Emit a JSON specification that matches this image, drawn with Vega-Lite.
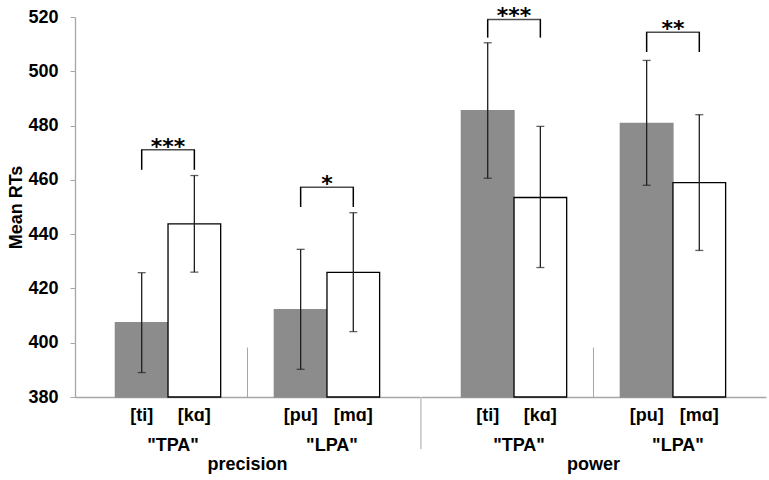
{
  "$schema": "https://vega.github.io/schema/vega-lite/v6.json",
  "background": "white",
  "padding": {"left": 7, "top": 5, "right": 5, "bottom": 5},
  "spacing": 0,
  "datasets": {
    "bars": [
      {"scale": "precision", "target": "\"TPA\"", "sound": "[ti]", "pair": "first", "mean": 407.4, "lo": 389.0, "hi": 425.8},
      {"scale": "precision", "target": "\"TPA\"", "sound": "[kɑ]", "pair": "second", "mean": 443.8, "lo": 426.0, "hi": 461.6},
      {"scale": "precision", "target": "\"LPA\"", "sound": "[pu]", "pair": "first", "mean": 412.2, "lo": 390.2, "hi": 434.4},
      {"scale": "precision", "target": "\"LPA\"", "sound": "[mɑ]", "pair": "second", "mean": 425.9, "lo": 404.1, "hi": 447.9},
      {"scale": "power", "target": "\"TPA\"", "sound": "[ti]", "pair": "first", "mean": 485.5, "lo": 460.6, "hi": 510.5},
      {"scale": "power", "target": "\"TPA\"", "sound": "[kɑ]", "pair": "second", "mean": 453.5, "lo": 427.7, "hi": 479.7},
      {"scale": "power", "target": "\"LPA\"", "sound": "[pu]", "pair": "first", "mean": 480.8, "lo": 458.0, "hi": 504.0},
      {"scale": "power", "target": "\"LPA\"", "sound": "[mɑ]", "pair": "second", "mean": 459.0, "lo": 434.0, "hi": 484.0}
    ],
    "brackets": [
      {"scale": "precision", "target": "\"TPA\"", "pair": "first", "top": 471.1, "leg": 463.7, "stars": "***"},
      {"scale": "precision", "target": "\"TPA\"", "pair": "second", "top": 471.1, "leg": 463.7, "stars": "***"},
      {"scale": "precision", "target": "\"LPA\"", "pair": "first", "top": 457.3, "leg": 450.0, "stars": "*"},
      {"scale": "precision", "target": "\"LPA\"", "pair": "second", "top": 457.3, "leg": 450.0, "stars": "*"},
      {"scale": "power", "target": "\"TPA\"", "pair": "first", "top": 519.1, "leg": 512.4, "stars": "***"},
      {"scale": "power", "target": "\"TPA\"", "pair": "second", "top": 519.1, "leg": 512.4, "stars": "***"},
      {"scale": "power", "target": "\"LPA\"", "pair": "first", "top": 514.4, "leg": 507.1, "stars": "**"},
      {"scale": "power", "target": "\"LPA\"", "pair": "second", "top": 514.4, "leg": 507.1, "stars": "**"}
    ]
  },
  "hconcat": [
    {
      "width": 345,
      "height": 380,
      "title": {"text": "precision", "orient": "bottom", "anchor": "middle", "font": "Liberation Sans", "fontSize": 18, "fontWeight": "bold", "color": "#000000", "offset": 2},
      "layer": [
        {
          "data": {"name": "bars"},
          "transform": [{"filter": "datum.scale === 'precision'"}],
          "mark": {"type": "bar", "strokeWidth": 1.3},
          "encoding": {
            "x": {"field": "target", "type": "nominal", "sort": ["\"TPA\"", "\"LPA\""], "title": null, "scale": {"paddingInner": 0.3375, "paddingOuter": 0.254}},
            "xOffset": {"field": "pair", "type": "nominal", "sort": ["first", "second"], "scale": {"paddingInner": 0, "paddingOuter": 0}},
            "y": {"field": "mean", "type": "quantitative", "title": "Mean RTs", "scale": {"domain": [380, 520], "nice": false, "zero": false}, "axis": {"values": [380, 400, 420, 440, 460, 480, 500, 520]}},
            "y2": {"datum": 380},
            "fill": {"field": "pair", "type": "nominal", "scale": {"domain": ["first", "second"], "range": ["#8c8c8c", "#ffffff"]}, "legend": null},
            "stroke": {"field": "pair", "type": "nominal", "scale": {"domain": ["first", "second"], "range": ["#8c8c8c", "#000000"]}, "legend": null}
          }
        },
        {
          "data": {"name": "bars"},
          "transform": [{"filter": "datum.scale === 'precision'"}],
          "mark": {"type": "rule", "color": "#1f1f1f", "strokeWidth": 1.3},
          "encoding": {
            "x": {"field": "target", "type": "nominal", "sort": ["\"TPA\"", "\"LPA\""]},
            "xOffset": {"field": "pair", "type": "nominal", "sort": ["first", "second"]},
            "y": {"field": "lo", "type": "quantitative", "title": "Mean RTs"},
            "y2": {"field": "hi"}
          }
        },
        {
          "data": {"name": "bars"},
          "transform": [{"filter": "datum.scale === 'precision'"}],
          "mark": {"type": "tick", "color": "#1f1f1f", "size": 8, "thickness": 1.3},
          "encoding": {
            "x": {"field": "target", "type": "nominal", "sort": ["\"TPA\"", "\"LPA\""]},
            "xOffset": {"field": "pair", "type": "nominal", "sort": ["first", "second"]},
            "y": {"field": "lo", "type": "quantitative", "title": "Mean RTs"}
          }
        },
        {
          "data": {"name": "bars"},
          "transform": [{"filter": "datum.scale === 'precision'"}],
          "mark": {"type": "tick", "color": "#1f1f1f", "size": 8, "thickness": 1.3},
          "encoding": {
            "x": {"field": "target", "type": "nominal", "sort": ["\"TPA\"", "\"LPA\""]},
            "xOffset": {"field": "pair", "type": "nominal", "sort": ["first", "second"]},
            "y": {"field": "hi", "type": "quantitative", "title": "Mean RTs"}
          }
        },
        {
          "data": {"name": "bars"},
          "transform": [{"filter": "datum.scale === 'precision'"}],
          "mark": {"type": "text", "font": "Liberation Sans", "fontWeight": "bold", "fontSize": 18, "baseline": "middle", "dy": 19, "color": "#000000"},
          "encoding": {
            "x": {"field": "target", "type": "nominal", "sort": ["\"TPA\"", "\"LPA\""]},
            "xOffset": {"field": "pair", "type": "nominal", "sort": ["first", "second"]},
            "y": {"datum": 380, "type": "quantitative", "title": "Mean RTs"},
            "text": {"field": "sound"}
          }
        },
        {
          "data": {"name": "bars"},
          "transform": [{"filter": "datum.scale === 'precision' && datum.sound === '[pu]'"}],
          "mark": {"type": "rule", "color": "#a6a6a6", "strokeWidth": 1},
          "encoding": {
            "x": {"datum": "\"LPA\"", "type": "nominal", "bandPosition": -0.255},
            "y": {"datum": 380, "type": "quantitative", "title": "Mean RTs"},
            "y2": {"datum": 398.2}
          }
        },
        {
          "data": {"name": "brackets"},
          "transform": [{"filter": "datum.scale === 'precision'"}],
          "mark": {"type": "rule", "color": "#000000", "strokeWidth": 1.5},
          "encoding": {
            "x": {"field": "target", "type": "nominal", "sort": ["\"TPA\"", "\"LPA\""]},
            "xOffset": {"field": "pair", "type": "nominal", "sort": ["first", "second"]},
            "y": {"field": "top", "type": "quantitative", "title": "Mean RTs"},
            "y2": {"field": "leg"}
          }
        },
        {
          "data": {"name": "brackets"},
          "transform": [{"filter": "datum.scale === 'precision' && datum.pair === 'first'"}],
          "mark": {"type": "tick", "color": "#000000", "size": 54, "thickness": 1.5},
          "encoding": {
            "x": {"field": "target", "type": "nominal", "sort": ["\"TPA\"", "\"LPA\""]},
            "y": {"field": "top", "type": "quantitative", "title": "Mean RTs"}
          }
        },
        {
          "data": {"name": "brackets"},
          "transform": [{"filter": "datum.scale === 'precision' && datum.pair === 'first'"}],
          "mark": {"type": "text", "font": "DejaVu Sans", "fontWeight": "bold", "fontSize": 22, "baseline": "alphabetic", "dy": 4, "color": "#000000"},
          "encoding": {
            "x": {"field": "target", "type": "nominal", "sort": ["\"TPA\"", "\"LPA\""]},
            "y": {"field": "top", "type": "quantitative", "title": "Mean RTs"},
            "text": {"field": "stars"}
          }
        }
      ]
    },
    {
      "width": 345,
      "height": 380,
      "title": {"text": "power", "orient": "bottom", "anchor": "middle", "font": "Liberation Sans", "fontSize": 18, "fontWeight": "bold", "color": "#000000", "offset": 2},
      "layer": [
        {
          "data": {"name": "bars"},
          "transform": [{"filter": "datum.scale === 'power'"}],
          "mark": {"type": "bar", "strokeWidth": 1.3},
          "encoding": {
            "x": {"field": "target", "type": "nominal", "sort": ["\"TPA\"", "\"LPA\""], "title": null, "scale": {"paddingInner": 0.3375, "paddingOuter": 0.254}},
            "xOffset": {"field": "pair", "type": "nominal", "sort": ["first", "second"], "scale": {"paddingInner": 0, "paddingOuter": 0}},
            "y": {"field": "mean", "type": "quantitative", "scale": {"domain": [380, 520], "nice": false, "zero": false}, "axis": null},
            "y2": {"datum": 380},
            "fill": {"field": "pair", "type": "nominal", "scale": {"domain": ["first", "second"], "range": ["#8c8c8c", "#ffffff"]}, "legend": null},
            "stroke": {"field": "pair", "type": "nominal", "scale": {"domain": ["first", "second"], "range": ["#8c8c8c", "#000000"]}, "legend": null}
          }
        },
        {
          "data": {"name": "bars"},
          "transform": [{"filter": "datum.scale === 'power'"}],
          "mark": {"type": "rule", "color": "#1f1f1f", "strokeWidth": 1.3},
          "encoding": {
            "x": {"field": "target", "type": "nominal", "sort": ["\"TPA\"", "\"LPA\""]},
            "xOffset": {"field": "pair", "type": "nominal", "sort": ["first", "second"]},
            "y": {"field": "lo", "type": "quantitative", "axis": null},
            "y2": {"field": "hi"}
          }
        },
        {
          "data": {"name": "bars"},
          "transform": [{"filter": "datum.scale === 'power'"}],
          "mark": {"type": "tick", "color": "#1f1f1f", "size": 8, "thickness": 1.3},
          "encoding": {
            "x": {"field": "target", "type": "nominal", "sort": ["\"TPA\"", "\"LPA\""]},
            "xOffset": {"field": "pair", "type": "nominal", "sort": ["first", "second"]},
            "y": {"field": "lo", "type": "quantitative", "axis": null}
          }
        },
        {
          "data": {"name": "bars"},
          "transform": [{"filter": "datum.scale === 'power'"}],
          "mark": {"type": "tick", "color": "#1f1f1f", "size": 8, "thickness": 1.3},
          "encoding": {
            "x": {"field": "target", "type": "nominal", "sort": ["\"TPA\"", "\"LPA\""]},
            "xOffset": {"field": "pair", "type": "nominal", "sort": ["first", "second"]},
            "y": {"field": "hi", "type": "quantitative", "axis": null}
          }
        },
        {
          "data": {"name": "bars"},
          "transform": [{"filter": "datum.scale === 'power'"}],
          "mark": {"type": "text", "font": "Liberation Sans", "fontWeight": "bold", "fontSize": 18, "baseline": "middle", "dy": 19, "color": "#000000"},
          "encoding": {
            "x": {"field": "target", "type": "nominal", "sort": ["\"TPA\"", "\"LPA\""]},
            "xOffset": {"field": "pair", "type": "nominal", "sort": ["first", "second"]},
            "y": {"datum": 380, "type": "quantitative", "axis": null},
            "text": {"field": "sound"}
          }
        },
        {
          "data": {"name": "bars"},
          "transform": [{"filter": "datum.scale === 'power' && datum.sound === '[pu]'"}],
          "mark": {"type": "rule", "color": "#a6a6a6", "strokeWidth": 1},
          "encoding": {
            "x": {"datum": "\"LPA\"", "type": "nominal", "bandPosition": -0.255},
            "y": {"datum": 380, "type": "quantitative", "axis": null},
            "y2": {"datum": 398.2}
          }
        },
        {
          "data": {"name": "bars"},
          "transform": [{"filter": "datum.scale === 'power' && datum.sound === '[ti]'"}],
          "mark": {"type": "rule", "color": "#a6a6a6", "strokeWidth": 1},
          "encoding": {
            "x": {"datum": "\"TPA\"", "type": "nominal", "bandPosition": -0.384},
            "y": {"datum": 380, "type": "quantitative", "axis": null},
            "y2": {"datum": 360.8}
          }
        },
        {
          "data": {"name": "brackets"},
          "transform": [{"filter": "datum.scale === 'power'"}],
          "mark": {"type": "rule", "color": "#000000", "strokeWidth": 1.5},
          "encoding": {
            "x": {"field": "target", "type": "nominal", "sort": ["\"TPA\"", "\"LPA\""]},
            "xOffset": {"field": "pair", "type": "nominal", "sort": ["first", "second"]},
            "y": {"field": "top", "type": "quantitative", "axis": null},
            "y2": {"field": "leg"}
          }
        },
        {
          "data": {"name": "brackets"},
          "transform": [{"filter": "datum.scale === 'power' && datum.pair === 'first'"}],
          "mark": {"type": "tick", "color": "#000000", "size": 54, "thickness": 1.5},
          "encoding": {
            "x": {"field": "target", "type": "nominal", "sort": ["\"TPA\"", "\"LPA\""]},
            "y": {"field": "top", "type": "quantitative", "axis": null}
          }
        },
        {
          "data": {"name": "brackets"},
          "transform": [{"filter": "datum.scale === 'power' && datum.pair === 'first'"}],
          "mark": {"type": "text", "font": "DejaVu Sans", "fontWeight": "bold", "fontSize": 22, "baseline": "alphabetic", "dy": 4, "color": "#000000"},
          "encoding": {
            "x": {"field": "target", "type": "nominal", "sort": ["\"TPA\"", "\"LPA\""]},
            "y": {"field": "top", "type": "quantitative", "axis": null},
            "text": {"field": "stars"}
          }
        }
      ]
    }
  ],
  "config": {
    "view": {"stroke": null},
    "font": "Liberation Sans",
    "axis": {
      "grid": false,
      "domainColor": "#a6a6a6",
      "tickColor": "#a6a6a6",
      "domainWidth": 1.3,
      "labelFont": "Liberation Sans",
      "labelFontSize": 18,
      "labelFontWeight": "bold",
      "labelColor": "#000000",
      "titleFont": "Liberation Sans",
      "titleFontSize": 18,
      "titleFontWeight": "bold",
      "titleColor": "#000000"
    },
    "axisX": {"ticks": false, "labelPadding": 39, "labelAngle": 0, "labelOffset": 5},
    "axisY": {"tickSize": 5, "labelPadding": 12, "titlePadding": 2}
  }
}
